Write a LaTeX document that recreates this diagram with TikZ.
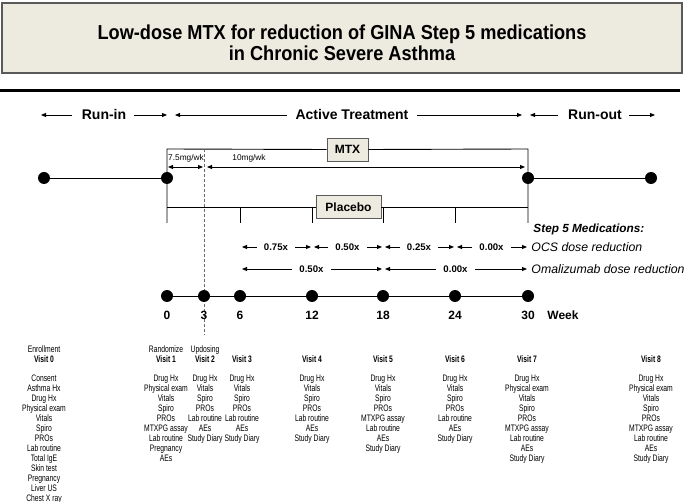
\documentclass[tikz,border=0pt]{standalone}
\usepackage{fontspec}
\setmainfont{Liberation Sans}
\newfontfamily\narrowfont[FakeStretch=0.72]{Liberation Sans}
\newfontfamily\titlefont[FakeStretch=0.9]{Liberation Sans}
\usetikzlibrary{arrows.meta}
\definecolor{beige}{HTML}{EDEADF}
\definecolor{boxline}{HTML}{5A5A5A}
\definecolor{dashgray}{HTML}{6A6A6A}
\begin{document}
\begin{tikzpicture}[x=1pt,y=-1pt,
  line width=0.9pt,
  arr/.style={-{Triangle[length=5pt,width=4pt]}},
  dbl/.style={{Triangle[length=5pt,width=4pt]}-{Triangle[length=5pt,width=4pt]}},
  dot/.style={circle,fill=black,inner sep=0,minimum size=12pt},
  phase/.style={font=\fontsize{14}{16}\selectfont\bfseries,inner sep=0,anchor=base},
  armbox/.style={draw=boxline,fill=beige,line width=0.9pt,font=\fontsize{12}{14}\selectfont\bfseries,minimum height=23pt,inner sep=0},
  dose/.style={font=\fontsize{9.6}{11}\selectfont\bfseries,inner sep=0,text height=7pt,text depth=0pt},
  med/.style={font=\fontsize{12.3}{14}\selectfont\itshape,anchor=west,inner sep=0},
  wk/.style={font=\fontsize{12}{14}\selectfont\bfseries,inner sep=0,anchor=base},
  small/.style={font=\fontsize{8.3}{10}\selectfont,inner sep=0},
  item/.style={font=\narrowfont\fontsize{9.4}{10}\selectfont,inner sep=0,text height=6.8pt,text depth=2pt},
  vhead/.style={item,font=\narrowfont\fontsize{9.4}{10}\selectfont\bfseries},
]
\useasboundingbox (0,0) rectangle (685,502);

% title
\draw[draw=boxline,fill=beige,line width=1.1pt] (2,3) rectangle (682,73);
\node[font=\titlefont\fontsize{20.2}{21}\selectfont\bfseries,align=center] (title) at (342,42.5)
  {Low-dose MTX for reduction of GINA Step 5 medications\\in Chronic Severe Asthma};
\draw[line width=3pt] (0,91) -- (680,91);

% phases
\node[phase] (runin) at (104,120) {Run-in};
\node[phase] (act) at (352,120) {Active Treatment};
\node[phase] (runout) at (595,120) {Run-out};
\coordinate (ri-l) at (41,115); \coordinate (ri-r) at (167,115);
\coordinate (at-l) at (175,115); \coordinate (at-r) at (522,115);
\coordinate (ro-l) at (530,115); \coordinate (ro-r) at (655,115);
\draw[arr] ([xshift=-9pt]runin.west|-ri-l) -- (ri-l);
\draw[arr] ([xshift=7pt]runin.east|-ri-l) -- (ri-r);
\draw[arr] ([xshift=-8pt]act.west|-at-l) -- (at-l);
\draw[arr] ([xshift=8pt]act.east|-at-l) -- (at-r);
\draw[arr] ([xshift=-10pt]runout.west|-ro-l) -- (ro-l);
\draw[arr] ([xshift=7pt]runout.east|-ro-l) -- (ro-r);

% top timeline
\node[dot] (dpre) at (44,178) {};
\node[dot] (dstart) at (167,178) {};
\node[dot] (dend) at (528,178) {};
\node[dot] (dpost) at (651,178) {};
\draw (dpre) -- (dstart);
\draw (dend) -- (dpost);

% MTX arm
\node[armbox,minimum width=41pt] (mtx) at (347.5,149.5) {MTX};
\coordinate (m-l) at (167,149); \coordinate (m-r) at (528,149);
\coordinate (tk0) at (167,223); \coordinate (tk30) at (528,223);
\draw (mtx.west) -- (m-l) -- (tk0);
\draw (mtx.east) -- (m-r) -- (tk30);
\coordinate (a1-l) at (168,167); \coordinate (a1-r) at (203,167);
\coordinate (a2-l) at (207,167); \coordinate (a2-r) at (525,167);
\draw[dbl] (a1-l) -- (a1-r);
\draw[dbl] (a2-l) -- (a2-r);
\node[small] (lab75) at (186,158) {7.5mg/wk};
\node[small] (lab10) at (249,158) {10mg/wk};

% placebo arm
\node[armbox,minimum width=65pt] (pbo) at (348.5,207) {Placebo};
\coordinate (p-l) at (167,207); \coordinate (p-r) at (528,207);
\draw (pbo.west) -- (p-l);
\draw (pbo.east) -- (p-r);
\foreach \x/\n in {240/6,312/12,383/18,455/24} {
  \coordinate (tkt\n) at (\x,207);
  \coordinate (tkb\n) at (\x,223);
  \draw (tkt\n) -- (tkb\n);
}

% dashed updosing line
\coordinate (dash-top) at (204,149); \coordinate (dash-bot) at (204,335);
\draw[dashgray,line width=0.9pt,dash pattern=on 3pt off 2pt] (dash-top) -- (dash-bot);

% step 5 medications
\node[med,font=\fontsize{11.8}{14}\selectfont\bfseries\itshape] (step5) at (533,229) {Step 5 Medications:};
\foreach \a/\b/\l/\n in {240/312/0.75x/o1,312/383/0.50x/o2,383/455/0.25x/o3,455/528/0.00x/o4} {
  \node[dose] (\n) at ({(\a+\b)/2},247) {\l};
  \coordinate (\n-l) at (\a+2,247);
  \coordinate (\n-r) at (\b-1,247);
  \draw[arr] ([xshift=-7pt]\n.west) -- (\n-l);
  \draw[arr] ([xshift=7pt]\n.east) -- (\n-r);
}
\node[med] (ocs) at (531,247) {OCS dose reduction};
\foreach \a/\b/\l/\n in {240/383/0.50x/m1,383/528/0.00x/m2} {
  \node[dose] (\n) at ({(\a+\b)/2},269) {\l};
  \coordinate (\n-l) at (\a+2,269);
  \coordinate (\n-r) at (\b-1,269);
  \draw[arr] ([xshift=-7pt]\n.west) -- (\n-l);
  \draw[arr] ([xshift=7pt]\n.east) -- (\n-r);
}
\node[med] (oma) at (531,269) {Omalizumab dose reduction};

% bottom timeline
\foreach \x/\n in {167/0,204/3,240/6,312/12,383/18,455/24,528/30} {
  \node[dot] (t\n) at (\x,296) {};
  \node[wk] (n\n) at (\x,319.5) {\n};
}
\draw (t0) -- (t3) -- (t6) -- (t12) -- (t18) -- (t24) -- (t30);
\node[wk,anchor=base west] (week) at (547,319.5) {Week};

% visit headers
\node[item] (h0) at (44,350) {Enrollment};
\node[item] (h1) at (166,350) {Randomize};
\node[item] (h2) at (205,350) {Updosing};

% visits
\foreach \x/\v/\items in {
  44/0/{Consent,Asthma Hx,Drug Hx,Physical exam,Vitals,Spiro,PROs,Lab routine,Total IgE,Skin test,Pregnancy,Liver US,Chest X ray},
  166/1/{Drug Hx,Physical exam,Vitals,Spiro,PROs,MTXPG assay,Lab routine,Pregnancy,AEs},
  205/2/{Drug Hx,Vitals,Spiro,PROs,Lab routine,AEs,Study Diary},
  242/3/{Drug Hx,Vitals,Spiro,PROs,Lab routine,AEs,Study Diary},
  312/4/{Drug Hx,Vitals,Spiro,PROs,Lab routine,AEs,Study Diary},
  383/5/{Drug Hx,Vitals,Spiro,PROs,MTXPG assay,Lab routine,AEs,Study Diary},
  455/6/{Drug Hx,Vitals,Spiro,PROs,Lab routine,AEs,Study Diary},
  527/7/{Drug Hx,Physical exam,Vitals,Spiro,PROs,MTXPG assay,Lab routine,AEs,Study Diary},
  651/8/{Drug Hx,Physical exam,Vitals,Spiro,PROs,MTXPG assay,Lab routine,AEs,Study Diary}} {
  \node[vhead] (vis\v) at (\x,360) {Visit \v};
  \foreach \t [count=\i] in \items {
    \node[item] (vis\v-\i) at (\x,369+10*\i) {\t};
  }
}
\end{tikzpicture}
\end{document}
